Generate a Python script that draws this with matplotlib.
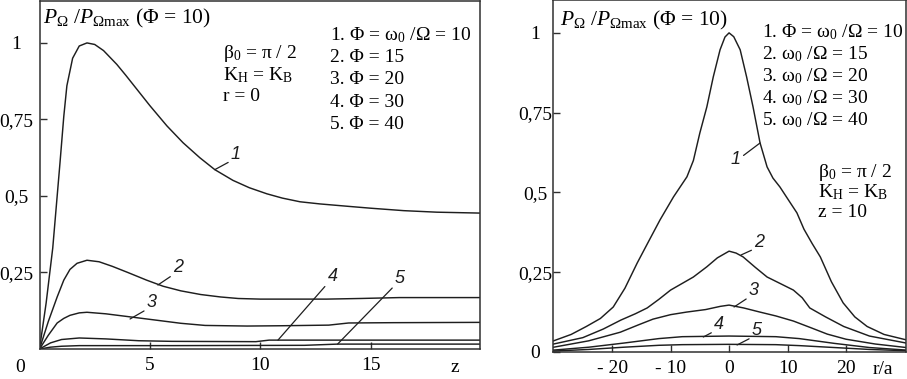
import matplotlib
matplotlib.use("Agg")
import matplotlib.pyplot as plt

plt.rcParams['font.family'] = ['Liberation Serif', 'DejaVu Serif']
plt.rcParams['mathtext.fontset'] = 'custom'
plt.rcParams['mathtext.rm'] = 'Liberation Serif'
plt.rcParams['mathtext.it'] = 'Liberation Serif:italic'
plt.rcParams['mathtext.bf'] = 'Liberation Serif:bold'

# --- left panel: P / Pmax versus z (r = 0) ---
z1 = [0, 0.3, 0.6, 0.93, 1.1, 1.24, 1.5, 1.8, 2.15, 2.5, 2.9, 3.5, 3.9, 4.23, 5.0, 5.77, 6.5,
      7.26, 7.94, 8.76, 9.5, 10.3, 11.0, 11.8, 12.7, 14.0, 15.0, 16.5, 18.0, 20.0]
p1 = [0, 0.15, 0.33, 0.61, 0.76, 0.86, 0.95, 0.99, 1.0, 0.995, 0.975, 0.93, 0.895, 0.865,
      0.795, 0.729, 0.674, 0.625, 0.586, 0.551, 0.527, 0.507, 0.493, 0.481, 0.474, 0.466,
      0.46, 0.452, 0.447, 0.444]
z2 = [0, 0.4, 0.8, 1.1, 1.38, 1.7, 2.15, 2.7, 3.3, 4.0, 4.85, 5.6, 6.4, 7.3, 8.2, 9.0,
      10, 11.5, 13, 14.5, 16.3, 20]
p2 = [0, 0.09, 0.17, 0.225, 0.26, 0.28, 0.29, 0.285, 0.27, 0.25, 0.225, 0.205, 0.19,
      0.178, 0.17, 0.165, 0.163, 0.163, 0.163, 0.165, 0.168, 0.168]
z3 = [0, 0.4, 0.8, 1.1, 1.38, 1.8, 2.15, 3.0, 4.1, 5.2, 6.4, 7.5, 9.4, 11, 13.1, 14, 16, 20]
p3 = [0, 0.045, 0.085, 0.1, 0.11, 0.118, 0.12, 0.115, 0.105, 0.095, 0.084, 0.077, 0.075,
      0.076, 0.078, 0.085, 0.086, 0.087]
z4 = [0, 0.5, 1.0, 1.8, 3.0, 4.5, 6, 9.8, 10.4, 20]
p4 = [0, 0.02, 0.031, 0.036, 0.033, 0.027, 0.025, 0.024, 0.029, 0.029]
z5 = [0, 0.5, 1.0, 1.8, 6, 12, 13.5, 20]
p5 = [0, 0.006, 0.009, 0.011, 0.011, 0.012, 0.016, 0.016]

# --- right panel: P / Pmax versus r/a (z = 10) ---
r1 = [-30, -27, -24.4, -22, -19.8, -17.8, -15.7, -13.8, -11.8, -9.5, -7.2, -6.1, -5.0,
      -3.8, -2.7, -1.54, -0.7, 0, 0.8, 1.9, 3.0, 4.1, 5.3, 6.5, 7.5, 8.7, 10.2, 11.6,
      12.8, 14.2, 15.6, 17.5, 19.5, 21.5, 23.6, 26.5, 30.3]
q1 = [0.035, 0.055, 0.08, 0.105, 0.141, 0.2, 0.279, 0.345, 0.414, 0.486, 0.549, 0.6,
      0.686, 0.768, 0.862, 0.947, 0.987, 1.0, 0.988, 0.947, 0.862, 0.768, 0.655, 0.58,
      0.545, 0.517, 0.475, 0.436, 0.385, 0.34, 0.298, 0.22, 0.154, 0.11, 0.08, 0.055, 0.038]
r2 = [-30, -25, -21.5, -18.5, -16, -14, -12, -10, -8, -6.1, -3.8, -2, 0, 1.2, 2.4,
      4.5, 6.5, 8.7, 11, 12.5, 13.8, 16.5, 19.6, 24, 30.3]
q2 = [0.025, 0.045, 0.072, 0.1, 0.12, 0.138, 0.165, 0.194, 0.215, 0.235, 0.267, 0.295,
      0.316, 0.31, 0.298, 0.265, 0.235, 0.215, 0.194, 0.17, 0.138, 0.11, 0.08, 0.05, 0.028]
r3 = [-30, -24, -18.6, -15.5, -13, -10, -7.3, -4, -1.5, 0, 2.5, 5.3, 8, 11, 14, 16.8, 20, 25, 30.3]
q3 = [0.015, 0.035, 0.062, 0.085, 0.103, 0.117, 0.125, 0.133, 0.143, 0.147, 0.138, 0.125,
      0.113, 0.097, 0.076, 0.056, 0.04, 0.025, 0.014]
r4 = [-30, -24, -18, -12, -8, 0, 8, 12, 18, 24, 30.3]
q4 = [0.006, 0.015, 0.028, 0.042, 0.048, 0.05, 0.048, 0.042, 0.027, 0.014, 0.006]
r5 = [-30, -24, -18, -12, -8, 0, 8, 12, 18, 24, 30.3]
q5 = [0.003, 0.008, 0.015, 0.021, 0.023, 0.024, 0.023, 0.02, 0.014, 0.008, 0.004]

left_list = ['1. Φ = $\\mathrm{ω}_0$ /Ω = 10', '2. Φ = 15', '3. Φ = 20', '4. Φ = 30', '5. Φ = 40']
right_list = ['1. Φ = $\\mathrm{ω}_0$ /Ω = 10', '2. $\\mathrm{ω}_0$ /Ω = 15',
              '3. $\\mathrm{ω}_0$ /Ω = 20', '4. $\\mathrm{ω}_0$ /Ω = 30', '5. $\\mathrm{ω}_0$ /Ω = 40']
title = '$P_{\\Omega}$ /$P_{\\Omega\\mathrm{max}}$ (Φ = 10)'
params_left = ['β$_0$ = π / 2', 'K$_\\mathrm{H}$ = K$_\\mathrm{B}$', 'r = 0']
params_right = ['β$_0$ = π / 2', 'K$_\\mathrm{H}$ = K$_\\mathrm{B}$', 'z = 10']

FS = 14
TFS = 15.5
LC = '#1e1e1e'
fig = plt.figure(figsize=(9.07, 3.79), dpi=100)
axL = fig.add_axes([39.5 / 907, 1 - 349 / 379, 440.5 / 907, 348 / 379])
axR = fig.add_axes([553 / 907, 1 - 352 / 379, 353 / 907, 352 / 379])

for ax in (axL, axR):
    for s in ax.spines.values():
        s.set_color('#303030')
        s.set_linewidth(1.1)
    ax.tick_params(direction='in', length=5, width=1.0, color='#303030', labelsize=FS)

# left
for z, p in [(z1, p1), (z2, p2), (z3, p3), (z4, p4), (z5, p5)]:
    axL.plot(z, p, color=LC, lw=1.05)
axL.set_xlim(0, 19.95)
axL.set_ylim(0, 1.137)
axL.set_xticks([5, 10, 15])
axL.set_xticklabels(['5', '10', '15'])
axL.set_yticks([0.25, 0.5, 0.75, 1])
axL.set_yticklabels(['0,25', '0,5', '0,75', '1'], ha='center')
axL.tick_params(axis='y', pad=17)
axL.tick_params(axis='x', pad=6)
axL.text(-0.044, -0.052, '0', transform=axL.transAxes, ha='center', va='center', fontsize=FS)
axL.text(0.943, -0.052, 'z', transform=axL.transAxes, ha='center', va='center', fontsize=FS)
axL.text(0.008, 0.951, title, transform=axL.transAxes, ha='left', va='center', fontsize=TFS)
for i, s in enumerate(params_left):
    axL.text(0.4165, 0.848 - i * 0.0618, s, transform=axL.transAxes, ha='left', va='center', fontsize=FS)
for i, s in enumerate(left_list):
    axL.text(0.659, 0.902 - i * 0.0645, s, transform=axL.transAxes, ha='left', va='center', fontsize=FS)

lab_kw = dict(fontsize=13, fontstyle='italic', family='Liberation Sans', color=LC,
              ha='left', va='baseline')
leaders_L = [('1', (7.94, 0.586), (8.67, 0.622)),
             ('2', (5.36, 0.209), (6.05, 0.25)),
             ('3', (4.1, 0.098), (4.86, 0.137)),
             ('4', (10.8, 0.029), (13.05, 0.222)),
             ('5', (13.5, 0.016), (16.1, 0.216))]
for t, xy, xyt in leaders_L:
    axL.annotate(t, xy=xy, xytext=xyt, textcoords='data',
                 arrowprops=dict(arrowstyle='-', color=LC, lw=0.9, shrinkA=0, shrinkB=0,
                                 relpos=(0, 0.1)), **lab_kw)

# right
for r, q in [(r1, q1), (r2, q2), (r3, q3), (r4, q4), (r5, q5)]:
    axR.plot(r, q, color=LC, lw=1.05)
axR.set_xlim(-30.1, 30.25)
axR.set_ylim(0, 1.103)
axR.set_xticks([-20, -10, 0, 10, 20])
axR.set_xticklabels(['- 20', '- 10', '0', '10', '20'])
axR.set_yticks([0, 0.25, 0.5, 0.75, 1])
axR.set_yticklabels(['0', '0,25', '0,5', '0,75', '1'], ha='center')
axR.tick_params(axis='y', pad=13)
axR.tick_params(axis='x', pad=6)
axR.text(0.935, -0.05, 'r/a', transform=axR.transAxes, ha='center', va='center', fontsize=FS)
axR.text(0.0198, 0.943, title, transform=axR.transAxes, ha='left', va='center', fontsize=TFS)
for i, s in enumerate(right_list):
    axR.text(0.592, 0.909 - i * 0.0625, s, transform=axR.transAxes, ha='left', va='center', fontsize=FS)
for i, s in enumerate(params_right):
    axR.text(0.751, 0.511 - i * 0.058, s, transform=axR.transAxes, ha='left', va='center', fontsize=FS)

leaders_R = [('1', (5.3, 0.655), (2.0, 0.59), (1, 0.6)),
             ('2', (2.05, 0.304), (4.3, 0.33), (0, 0.1)),
             ('3', (0.85, 0.141), (3.4, 0.179), (0, 0.1)),
             ('4', (-4.4, 0.047), (-2.56, 0.072), (0, 0.1)),
             ('5', (1.37, 0.022), (3.9, 0.053), (0, 0.1))]
for t, xy, xyt, rp in leaders_R:
    kw = dict(lab_kw)
    if rp[0] == 1:
        kw['ha'] = 'right'
    axR.annotate(t, xy=xy, xytext=xyt, textcoords='data',
                 arrowprops=dict(arrowstyle='-', color=LC, lw=0.9, shrinkA=0, shrinkB=0,
                                 relpos=rp), **kw)

fig.savefig('out.png', dpi=100)
